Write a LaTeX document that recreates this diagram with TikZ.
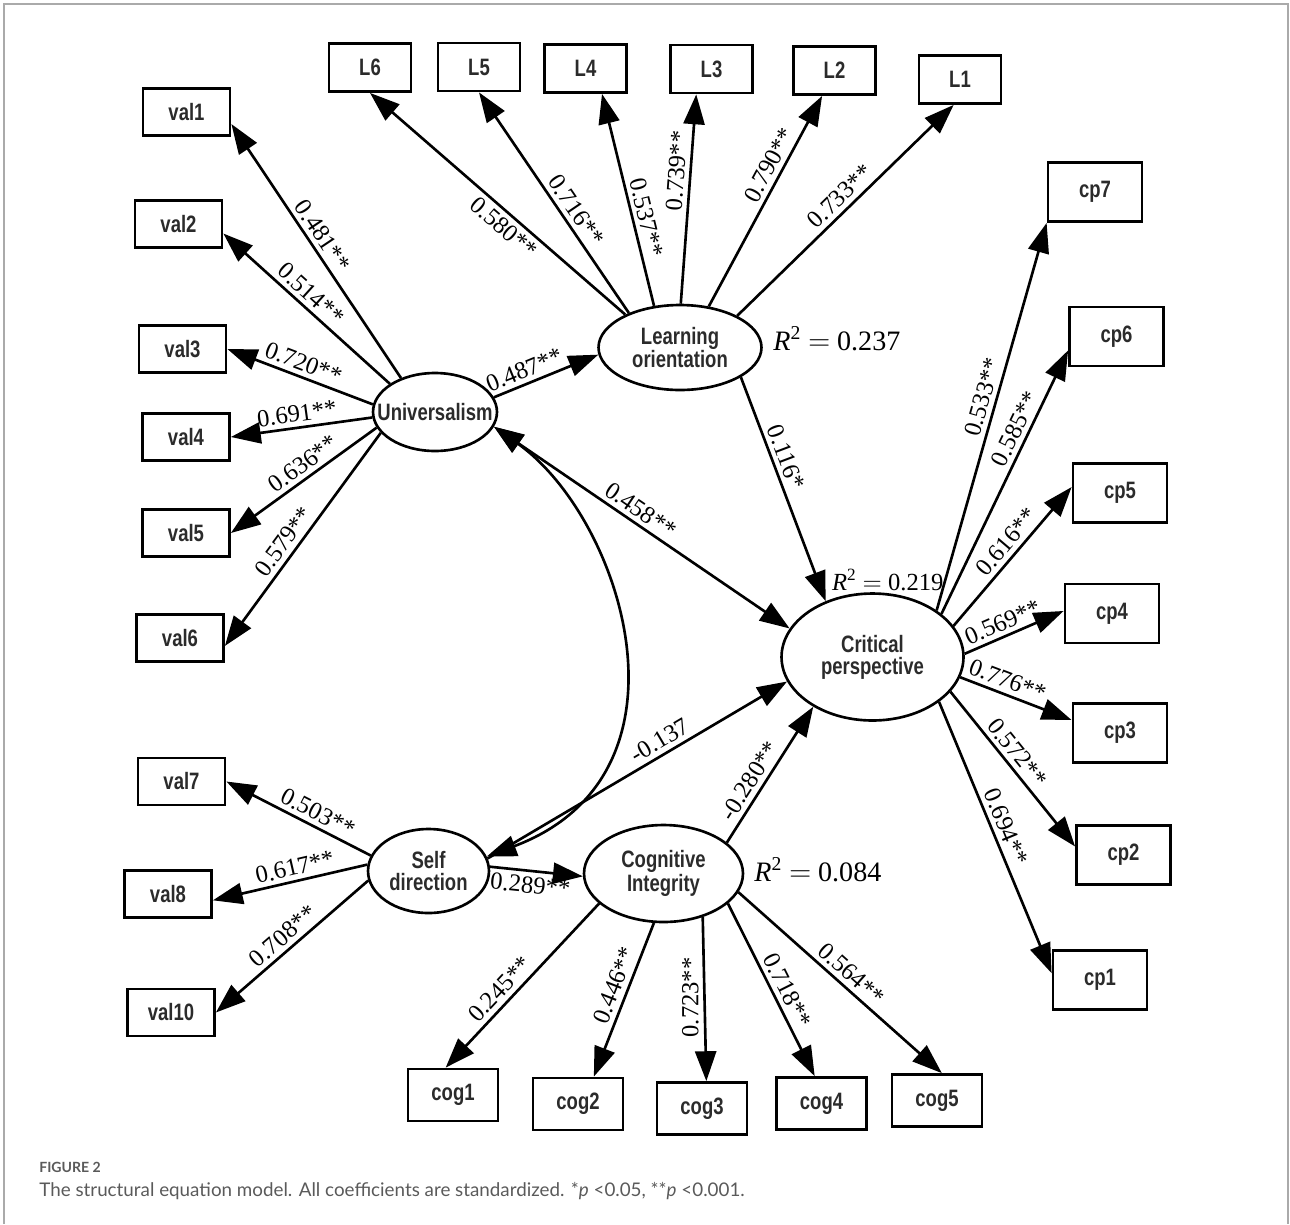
\documentclass[tikz,border=0pt]{standalone}
\usepackage{fontspec}
\setmainfont{Liberation Serif}
\newfontfamily\nodefont[FakeStretch=0.78]{Liberation Sans}
\newfontfamily\capfont{Lato}
\usetikzlibrary{arrows.meta,shapes.geometric}
\definecolor{framegray}{HTML}{AAAAAA}
\definecolor{captiongray}{HTML}{5A5A5A}
\definecolor{textdark}{HTML}{2B2B2B}
\begin{document}
\begin{tikzpicture}[x=0.02cm,y=-0.02cm,
  obs/.style={draw,line width=1.6pt,rectangle,inner sep=0pt,font=\nodefont\bfseries\fontsize{13.5}{15}\selectfont,text=textdark},
  lbox/.style={obs,minimum width=1.64cm,minimum height=0.96cm},
  vbox/.style={obs,minimum width=1.74cm,minimum height=0.94cm},
  cbox/.style={obs,minimum width=1.88cm,minimum height=1.18cm},
  gbox/.style={obs,minimum width=1.80cm,minimum height=1.04cm},
  lat/.style={draw,ellipse,line width=1.5pt,inner sep=0pt,align=center,font=\nodefont\bfseries\fontsize{13.5}{12.5}\selectfont,text=textdark},
  arr/.style={line width=1.5pt,-{Triangle[length=17pt,width=12pt]}},
  darr/.style={line width=1.5pt,{Triangle[length=17pt,width=12pt]}-{Triangle[length=17pt,width=12pt]}},
  lab/.style={font=\fontsize{14}{16}\selectfont,inner sep=2.5pt},
  rsq/.style={font=\fontsize{16}{18}\selectfont,inner sep=0pt,anchor=west},
]
\useasboundingbox (0,0) rectangle (1290,1224);
\draw[framegray,line width=1pt] (4,1224) -- (4,4) -- (1288,4) -- (1288,1224);

% latent variables
\node[lat,minimum width=3.26cm,minimum height=1.70cm] (LO) at (680,347.5) {\makebox[0pt]{Learning}\\\makebox[0pt]{orientation}};
\node[lat,minimum width=2.48cm,minimum height=1.56cm] (U) at (435,412) {\makebox[0pt]{Universalism}};
\node[lat,minimum width=3.64cm,minimum height=2.54cm] (CP) at (872.5,657) {\makebox[0pt]{Critical}\\\makebox[0pt]{perspective}};
\node[lat,minimum width=2.42cm,minimum height=1.68cm] (SD) at (428.5,871) {\makebox[0pt]{Self}\\\makebox[0pt]{direction}};
\node[lat,minimum width=3.18cm,minimum height=1.94cm] (CI) at (663.5,873.5) {\makebox[0pt]{Cognitive}\\\makebox[0pt]{Integrity}};

% observed: learning
\node[lbox] (L6) at (370,67.5) {L6};
\node[lbox] (L5) at (479,67) {L5};
\node[lbox] (L4) at (585.5,68.5) {L4};
\node[lbox] (L3) at (711.5,69) {L3};
\node[lbox] (L2) at (834.5,70.5) {L2};
\node[lbox] (L1) at (960,79.5) {L1};
% observed: values
\node[vbox] (val1) at (186.5,112) {val1};
\node[vbox] (val2) at (178.5,224) {val2};
\node[vbox] (val3) at (182.5,349) {val3};
\node[vbox] (val4) at (186,437) {val4};
\node[vbox] (val5) at (186,533) {val5};
\node[vbox] (val6) at (180,638) {val6};
\node[vbox] (val7) at (181.5,781.5) {val7};
\node[vbox] (val8) at (168,894) {val8};
\node[vbox] (val10) at (171,1012.5) {val10};
% observed: critical perspective
\node[cbox] (cp7) at (1095,192) {cp7};
\node[cbox] (cp6) at (1116.5,336.5) {cp6};
\node[cbox] (cp5) at (1120,493) {cp5};
\node[cbox] (cp4) at (1112,613.5) {cp4};
\node[cbox] (cp3) at (1120,733) {cp3};
\node[cbox] (cp2) at (1123.5,855) {cp2};
\node[cbox] (cp1) at (1100,980) {cp1};
% observed: cognitive
\node[gbox] (cog1) at (453,1095) {cog1};
\node[gbox] (cog2) at (578,1104) {cog2};
\node[gbox] (cog3) at (702,1108.5) {cog3};
\node[gbox] (cog4) at (821.5,1103.5) {cog4};
\node[gbox] (cog5) at (937,1100.5) {cog5};

% learning orientation loadings
\draw[arr] (LO.149) -- (L6.south) node[lab,sloped,below,pos=0.44] (t1) {0.580**};
\draw[arr] (LO.146) -- (L5.south) node[lab,sloped,above,pos=0.43] (t2) {0.716**};
\draw[arr] (LO.122) -- (L4.-57) node[lab,sloped,above,pos=0.40] (t3) {0.537**};
\draw[arr] (LO.89) -- (L3.-121) node[lab,sloped,above,pos=0.63] (t4) {0.739**};
\draw[arr] (LO.55) -- (L2.-116) node[lab,sloped,above,pos=0.64] (t5) {0.790**};
\draw[arr] (LO.29) -- (L1.-104) node[lab,sloped,above,pos=0.52] (t6) {0.733**};

% universalism loadings
\draw[arr] (U.135) -- (val1.-15) node[lab,sloped,above,pos=0.53] (u1) {0.481**};
\draw[arr] (U.148) -- (val2.-12) node[lab,sloped,above,pos=0.53] (u2) {0.514**};
\draw[arr] (U.173) -- (val3.east) node[lab,sloped,above,pos=0.51] (u3) {0.720**};
\draw[arr] (U.185) -- (val4.east) node[lab,sloped,above,pos=0.52] (u4) {0.691**};
\draw[arr] (U.195) -- (val5.east) node[lab,sloped,above,pos=0.45] (u5) {0.636**};
\draw[arr] (U.201) -- (val6.-10) node[lab,sloped,above,pos=0.55] (u6) {0.579**};

% structural paths
\draw[arr] (U.14) -- (LO.185) node[lab,sloped,above,pos=0.34] (s1) {0.487**};
\draw[darr] (U.-14) -- (CP.161) node[lab,sloped,above,pos=0.47] (s2) {0.458**};
\draw[darr] (U.-14) .. controls (622,517.5) and (705,774.5) .. (SD.14);
\draw[arr] (LO.-26) -- (CP.130) node[lab,sloped,above,pos=0.38] (s3) {0.116*};
\draw[arr] (SD.4) -- (CI.182) node[lab,sloped,below,pos=0.45] (s4) {0.289**};
\draw[arr] (SD.12) -- (CP.196) node[lab,sloped,above,pos=0.60] (s5) {-0.137};
\draw[arr] (CI.26) -- (CP.220) node[lab,sloped,above,pos=0.40] (s6) {-0.280**};

% critical perspective loadings
\draw[arr] (CP.36) -- (cp7.south west) node[lab,sloped,above,pos=0.54] (c7) {0.533**};
\draw[arr] (CP.32) -- (cp6.196) node[lab,sloped,above,pos=0.68] (c6) {0.585**};
\draw[arr] (CP.21) -- (cp5.173) node[lab,sloped,above,pos=0.54] (c5) {0.616**};
\draw[arr] (CP.2) -- (cp4.177) node[lab,sloped,above,pos=0.44] (c4) {0.569**};
\draw[arr] (CP.-13) -- (cp3.165) node[lab,sloped,above,pos=0.38] (c3) {0.776**};
\draw[arr] (CP.-24) -- (cp2.170) node[lab,sloped,above,pos=0.45] (c2) {0.572**};
\draw[arr] (CP.-34) -- (cp1.172) node[lab,sloped,above,pos=0.48] (c1) {0.694**};

% self direction loadings
\draw[arr] (SD.165) -- (val7.east) node[lab,sloped,above,pos=0.41] (d7) {0.503**};
\draw[arr] (SD.174) -- (val8.-8) node[lab,sloped,above,pos=0.45] (d8) {0.617**};
\draw[arr] (SD.189) -- (val10.east) node[lab,sloped,above,pos=0.50] (d10) {0.708**};

% cognitive integrity loadings
\draw[arr] (CI.205) -- (cog1.105) node[lab,sloped,above,pos=0.58] (g1) {0.245**};
\draw[arr] (CI.259) -- (cog2.60) node[lab,sloped,above,pos=0.44] (g2) {0.446**};
\draw[arr] (CI.-48) -- (cog3.81) node[lab,rotate=90,above,pos=0.49] (g3) {0.723**};
\draw[arr] (CI.-25) -- (cog4.104) node[lab,sloped,above,pos=0.54] (g4) {0.718**};
\draw[arr] (CI.-14) -- (cog5.80) node[lab,sloped,above,pos=0.51] (g5) {0.564**};

% R squared
\node[rsq] (r1) at (773,339) {\textit{R}\textsuperscript{2} $=$ 0.237};
\node[rsq,font=\fontsize{14}{16}\selectfont] (r2) at (831.7,580) {\textit{R}\textsuperscript{2} $=$ 0.219};
\node[rsq] (r3) at (754,870) {\textit{R}\textsuperscript{2} $=$ 0.084};

% caption
\node[anchor=base west,inner sep=0pt,text=captiongray,font=\capfont\bfseries\fontsize{8}{9}\selectfont] (fig) at (39,1172) {FIGURE 2};
\node[anchor=base west,inner sep=0pt,text=captiongray,font=\capfont\fontsize{10.7}{12}\selectfont] (cap) at (39,1196) {The structural equation model. All coefficients are standardized. *\textit{p} <0.05, **\textit{p} <0.001.};
\end{tikzpicture}
\end{document}
